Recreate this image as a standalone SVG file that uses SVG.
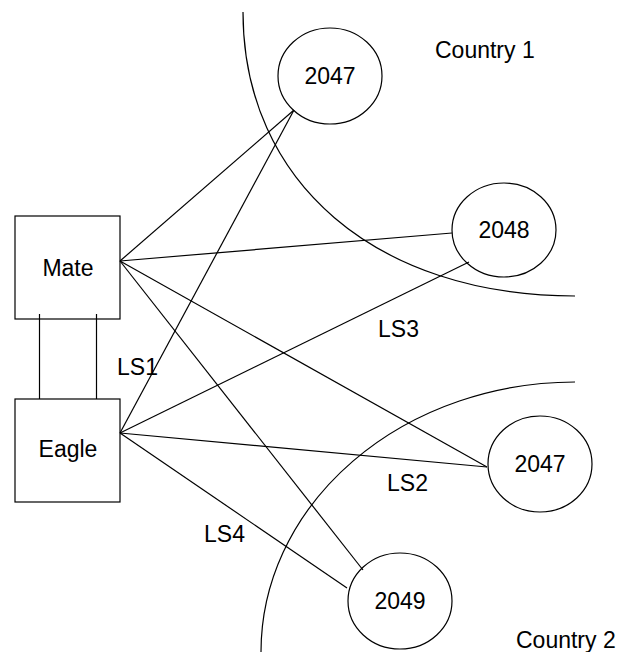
<svg xmlns="http://www.w3.org/2000/svg" width="619" height="652" viewBox="0 0 619 652">
<style>
.s{fill:none;stroke:#000;stroke-width:1.2}
.n{fill:#fff;stroke:#000;stroke-width:1.2}
text{font-family:"Liberation Sans",Arial,Helvetica,sans-serif;font-size:23px;fill:#000}
.c{text-anchor:middle}
</style>
<rect width="619" height="652" fill="#fff"/>
<g id="regions">
<path class="s" d="M243,12 C243,182 376,296 575,296"/>
<path class="s" d="M575,382 A314,270 0 0 0 261,652"/>
<text x="435" y="58">Country 1</text>
<text x="516" y="648">Country 2</text>
</g>
<g id="connectors">
<line class="s" x1="39.5" y1="314" x2="39.5" y2="399"/>
<line class="s" x1="96.5" y1="314" x2="96.5" y2="399"/>
<line class="s" x1="120" y1="261" x2="294" y2="110"/>
<line class="s" x1="120" y1="261" x2="452" y2="233"/>
<line class="s" x1="120" y1="261" x2="487" y2="467"/>
<line class="s" x1="120" y1="261" x2="363" y2="570"/>
<line class="s" x1="120" y1="433" x2="294" y2="110"/>
<line class="s" x1="120" y1="433" x2="469" y2="262"/>
<line class="s" x1="120" y1="433" x2="487" y2="467"/>
<line class="s" x1="120" y1="433" x2="347" y2="588"/>
<text x="117" y="375">LS1</text>
<text x="378" y="337">LS3</text>
<text x="387" y="491">LS2</text>
<text x="204" y="542">LS4</text>
</g>
<g id="mate">
<rect class="s" x="15" y="216" width="105" height="103"/>
<text class="c" x="68" y="276">Mate</text>
</g>
<g id="eagle">
<rect class="s" x="15" y="399" width="105" height="103"/>
<text class="c" x="68" y="457">Eagle</text>
</g>
<g id="n2047a">
<ellipse class="s" cx="330" cy="76" rx="52" ry="48"/>
<text class="c" x="330" y="84">2047</text>
</g>
<g id="n2048">
<ellipse class="s" cx="504" cy="230" rx="52" ry="47"/>
<text class="c" x="504" y="238">2048</text>
</g>
<g id="n2047b">
<ellipse class="s" cx="540" cy="464" rx="52" ry="48"/>
<text class="c" x="540" y="472">2047</text>
</g>
<g id="n2049">
<ellipse class="s" cx="400" cy="601" rx="52" ry="48"/>
<text class="c" x="400" y="609">2049</text>
</g>
</svg>
